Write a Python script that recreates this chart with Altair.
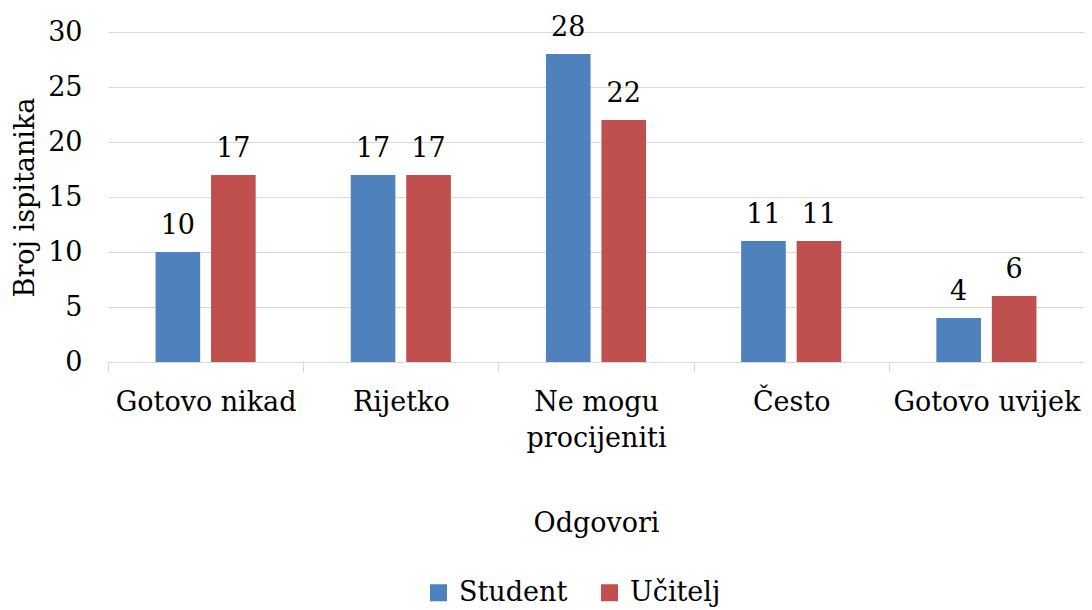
import altair as alt
import pandas as pd

categories = ["Gotovo nikad", "Rijetko", "Ne mogu procijeniti", "Često", "Gotovo uvijek"]
series = ["Student", "Učitelj"]
student = [10, 17, 28, 11, 4]
ucitelj = [17, 17, 22, 11, 6]
colors = ["#4F81BD", "#C0504D"]
y_ticks = [0, 5, 10, 15, 20, 25, 30]

rows = []
for c, s, u in zip(categories, student, ucitelj):
    rows.append({"Odgovori": c, "Serija": series[0], "Vrijednost": s})
    rows.append({"Odgovori": c, "Serija": series[1], "Vrijednost": u})
df = pd.DataFrame(rows)

FONT = "DejaVu Serif"
FS = 27

x_enc = alt.X(
    "Odgovori:N",
    sort=categories,
    scale=alt.Scale(paddingInner=0, paddingOuter=0),
    axis=alt.Axis(
        title="Odgovori",
        labelAngle=0,
        labelExpr="datum.value == 'Ne mogu procijeniti' ? ['Ne mogu', 'procijeniti'] : datum.value",
        labelFont=FONT,
        labelFontSize=FS,
        labelColor="#000000",
        labelPadding=17,
        labelLineHeight=36,
        labelBaseline="top",
        labelLimit=400,
        domainColor="#d9d9d9",
        domainWidth=1,
        tickColor="#d9d9d9",
        tickSize=10,
        tickBand="extent",
        grid=False,
        titleFont=FONT,
        titleFontSize=FS,
        titleFontWeight="normal",
        titleColor="#000000",
        titleY=169,
        titleBaseline="alphabetic",
    ),
)
xoff_enc = alt.XOffset(
    "Serija:N",
    sort=series,
    scale=alt.Scale(paddingInner=0.196, paddingOuter=0.857),
)
y_enc = alt.Y(
    "Vrijednost:Q",
    scale=alt.Scale(domain=[0, 30], nice=False),
    axis=alt.Axis(
        title="Broj ispitanika",
        values=y_ticks,
        grid=True,
        gridColor="#d9d9d9",
        gridWidth=1,
        domain=False,
        ticks=False,
        tickSize=0,
        labelFont=FONT,
        labelFontSize=FS,
        labelColor="#000000",
        labelPadding=26,
        titleFont=FONT,
        titleFontSize=FS,
        titleFontWeight="normal",
        titleColor="#000000",
        titleAngle=270,
        titleX=-75,
        titleY=165,
        titleAlign="center",
        titleBaseline="alphabetic",
    ),
)

bars = alt.Chart(df).mark_bar().encode(
    x=x_enc,
    xOffset=xoff_enc,
    y=y_enc,
    color=alt.Color(
        "Serija:N",
        sort=series,
        scale=alt.Scale(domain=series, range=colors),
        legend=alt.Legend(
            title=None,
            orient="none",
            legendX=317,
            legendY=547,
            direction="horizontal",
            symbolType="square",
            symbolSize=289,
            symbolStrokeWidth=0,
            symbolOpacity=1,
            labelFont=FONT,
            labelFontSize=FS,
            labelColor="#000000",
            labelOffset=7,
            columnPadding=28,
            padding=0,
        ),
    ),
)

labels = alt.Chart(df).mark_text(
    baseline="alphabetic", dy=-18, font=FONT, fontSize=FS, color="#000000"
).encode(
    x=alt.X("Odgovori:N", sort=categories),
    xOffset=alt.XOffset("Serija:N", sort=series),
    y=alt.Y("Vrijednost:Q"),
    text=alt.Text("Vrijednost:Q"),
)

chart = (
    alt.layer(bars, labels)
    .properties(
        width=976,
        height=330,
        autosize=alt.AutoSizeParams(type="none"),
        padding={"left": 100, "top": 24, "right": 0, "bottom": 248},
        background="#ffffff",
    )
    .configure_view(stroke=None)
)

chart.save("out.html", embed_options={"renderer": "svg", "actions": False})
